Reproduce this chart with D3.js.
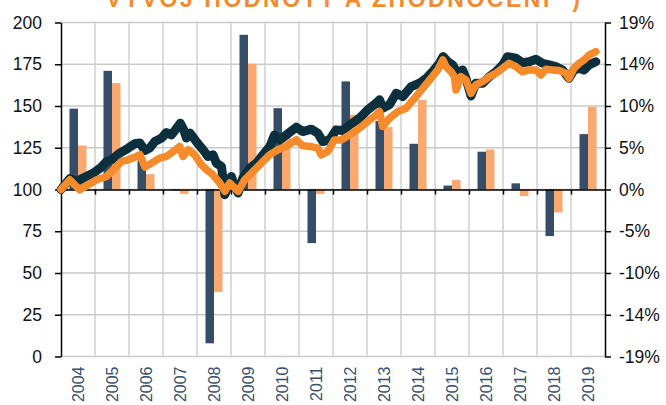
<!DOCTYPE html>
<html>
<head>
<meta charset="utf-8">
<script src="https://cdn.jsdelivr.net/npm/d3@7"></script>
<style>
  html, body { margin: 0; padding: 0; background: #fff; }
  svg { display: block; }
</style>
</head>
<body>
<div id="chart"></div>
<script>
// ---------- DATA ----------
const years = [2004, 2005, 2006, 2007, 2008, 2009, 2010, 2011, 2012, 2013, 2014, 2015, 2016, 2017, 2018, 2019];
// annual returns (%), right axis
const fundReturns  = [9.2, 13.5, 3.3, -0.1, -17.5, 17.6, 9.25, -6.1, 12.3, 7.8, 5.2, 0.45, 4.3, 0.7, -5.3, 6.3];
const benchReturns = [5.0, 12.1, 1.75, -0.5, -11.65, 14.3, 6.4, -0.5, 8.5, 7.1, 10.2, 1.1, 4.55, -0.75, -2.6, 9.4];

// value development (index, left axis)
const fundDates = [2004.00, 2004.26, 2004.46, 2004.65, 2004.95, 2005.19, 2005.34, 2005.49, 2005.73, 2005.98,
  2006.17, 2006.32, 2006.47, 2006.61, 2006.76, 2006.96, 2007.10, 2007.25, 2007.40, 2007.51,
  2007.61, 2007.69, 2007.79, 2007.98, 2008.18, 2008.32, 2008.47, 2008.57, 2008.72, 2008.82,
  2008.91, 2009.01, 2009.11, 2009.21, 2009.35, 2009.55, 2009.75, 2009.94, 2010.14, 2010.28,
  2010.43, 2010.63, 2010.92, 2011.11, 2011.36, 2011.55, 2011.70, 2011.90, 2012.09, 2012.29,
  2012.49, 2012.78, 2013.02, 2013.27, 2013.37, 2013.46, 2013.66, 2013.86, 2014.05, 2014.30,
  2014.54, 2014.74, 2014.93, 2015.13, 2015.24, 2015.37, 2015.52, 2015.66, 2015.81, 2015.91,
  2016.06, 2016.20, 2016.40, 2016.60, 2016.79, 2016.99, 2017.13, 2017.38, 2017.57, 2017.77,
  2017.97, 2018.16, 2018.36, 2018.55, 2018.75, 2018.94, 2019.09, 2019.24, 2019.38, 2019.53, 2019.73];
const fundValues = [100.0, 106.5, 104.8, 106.9, 109.8, 113.4, 116.8, 117.8, 121.8, 124.8,
  127.4, 127.8, 123.4, 124.8, 128.7, 130.8, 134.1, 132.7, 136.7, 139.7,
  135.7, 130.8, 133.8, 128.7, 123.8, 119.8, 120.8, 115.8, 113.8, 96.9,
  101.8, 107.8, 101.8, 97.9, 106.9, 112.8, 115.8, 120.8, 125.7, 132.7,
  129.7, 132.7, 137.3, 134.7, 136.1, 133.8, 128.7, 129.7, 135.7, 135.3,
  138.7, 142.7, 147.7, 151.7, 153.7, 148.7, 150.7, 157.7, 155.6, 161.6,
  163.6, 166.6, 170.6, 175.6, 179.6, 176.6, 174.6, 169.6, 171.6, 166.6,
  156.0, 163.6, 163.6, 167.6, 170.5, 174.5, 179.5, 178.6, 175.9, 176.5,
  178.0, 175.6, 174.6, 173.6, 171.6, 166.6, 171.6, 172.6, 171.6, 174.6, 176.5];

const benchDates = [2004.00, 2004.26, 2004.55, 2004.75, 2005.05, 2005.34, 2005.54, 2005.78, 2005.98, 2006.22,
  2006.32, 2006.47, 2006.66, 2006.91, 2007.10, 2007.30, 2007.49, 2007.59, 2007.74, 2007.93,
  2008.13, 2008.28, 2008.47, 2008.67, 2008.82, 2008.96, 2009.11, 2009.21, 2009.40, 2009.65,
  2009.89, 2010.14, 2010.38, 2010.63, 2010.92, 2011.11, 2011.36, 2011.55, 2011.65, 2011.85,
  2012.04, 2012.24, 2012.49, 2012.78, 2013.02, 2013.27, 2013.37, 2013.46, 2013.66, 2013.91,
  2014.15, 2014.40, 2014.64, 2014.88, 2015.08, 2015.23, 2015.32, 2015.47, 2015.57, 2015.62,
  2015.76, 2015.91, 2016.06, 2016.20, 2016.40, 2016.60, 2016.79, 2016.99, 2017.18, 2017.38,
  2017.57, 2017.77, 2017.97, 2018.11, 2018.26, 2018.45, 2018.65, 2018.85, 2018.94, 2019.09,
  2019.24, 2019.38, 2019.53, 2019.73];
const benchValues = [100.0, 105.8, 99.8, 102.2, 105.8, 107.8, 111.8, 116.8, 117.8, 119.8,
  120.8, 113.4, 115.8, 118.8, 119.8, 122.8, 125.7, 119.8, 123.8, 120.8,
  114.8, 111.8, 108.8, 103.9, 98.9, 103.9, 100.9, 98.9, 105.8, 110.8,
  115.8, 120.8, 123.8, 126.0, 129.7, 126.2, 125.7, 124.8, 120.8, 122.8,
  129.7, 129.7, 132.7, 136.7, 140.7, 144.7, 146.7, 137.7, 142.7, 146.7,
  148.7, 154.7, 160.6, 166.6, 171.6, 177.6, 173.6, 170.6, 167.6, 159.6,
  167.6, 165.6, 157.6, 162.6, 164.6, 167.6, 169.6, 172.6, 175.6, 173.6,
  170.5, 171.6, 171.6, 168.6, 172.0, 171.6, 171.2, 169.6, 166.6, 172.6,
  175.6, 177.5, 180.5, 182.5];

const leftTicks = [0, 25, 50, 75, 100, 125, 150, 175, 200];
const rightTickValues = [-19, -14.25, -9.5, -4.75, 0, 4.75, 9.5, 14.25, 19];
const rightTickLabels = ["-19%", "-14%", "-10%", "-5%", "0%", "5%", "10%", "14%", "19%"];
const titleText = "VÝVOJ HODNOTY A ZHODNOCENÍ *)";

// ---------- CHART ----------
const W = 666, H = 405;
const L = 61, R = 605, T = 22.5, B = 356.5;
const svg = d3.select("#chart").append("svg").attr("width", W).attr("height", H);

const x = d3.scaleLinear().domain([2004, 2020]).range([L, R]);
const xb = d3.scaleBand().domain(years).range([L, R]).padding(0);
const xs = d3.scaleBand().domain(["fund", "bench"]).range([0, xb.bandwidth()]).paddingInner(0).paddingOuter(1);
const y = d3.scaleLinear().domain([0, 200]).range([B, T]);
const y2 = d3.scaleLinear().domain([-19, 19]).range([B, T]);

const font = "'Liberation Sans', Arial, sans-serif";

// title (cut off at top, as in the original)
svg.append("text")
  .attr("x", 106).attr("y", 7)
  .attr("textLength", 474).attr("lengthAdjust", "spacing")
  .attr("font-family", font).attr("font-weight", "bold").attr("font-size", 23)
  .attr("fill", "#f58a2a")
  .text(titleText);

// grid
const grid = svg.append("g");
grid.selectAll("line.h").data(leftTicks).join("line")
  .attr("x1", L).attr("x2", R).attr("y1", d => y(d)).attr("y2", d => y(d))
  .attr("stroke", "#c9c9c9").attr("stroke-width", 1.3);
grid.selectAll("line.v").data(years.slice(1)).join("line")
  .attr("x1", d => x(d)).attr("x2", d => x(d)).attr("y1", T).attr("y2", B)
  .attr("stroke", "#c9c9c9").attr("stroke-width", 1.3);

// bars
const series = [
  { key: "fund", vals: fundReturns, color: "#364d68" },
  { key: "bench", vals: benchReturns, color: "#f9a86f" }
];
series.forEach(s => {
  svg.append("g").selectAll("rect").data(years).join("rect")
    .attr("x", (d) => xb(d) + xs(s.key))
    .attr("width", xs.bandwidth())
    .attr("y", (d, i) => Math.min(y2(s.vals[i]), y2(0)))
    .attr("height", (d, i) => Math.abs(y2(s.vals[i]) - y2(0)))
    .attr("fill", s.color);
});

// axes
function styleAxis(g, size) {
  g.select(".domain").attr("stroke", "#000").attr("stroke-width", 1.5);
  g.selectAll(".tick line").attr("stroke", "#000").attr("stroke-width", 1.5);
  g.selectAll(".tick text").attr("font-family", font).attr("font-size", size).attr("fill", "#111");
}
const gl = svg.append("g").attr("transform", `translate(${L},0)`)
  .call(d3.axisLeft(y).tickValues(leftTicks).tickSize(6).tickSizeOuter(0).tickPadding(13));
styleAxis(gl, 17.5);

const gr = svg.append("g").attr("transform", `translate(${R},0)`)
  .call(d3.axisRight(y2).tickValues(rightTickValues).tickFormat((d, i) => rightTickLabels[i])
    .tickSize(6).tickSizeOuter(0).tickPadding(8));
styleAxis(gr, 17.5);

const gx = svg.append("g").attr("transform", `translate(0,${y(100)})`)
  .call(d3.axisBottom(x).tickValues(d3.range(2005, 2020)).tickSize(5).tickSizeOuter(0).tickFormat(""));
styleAxis(gx, 10);

const gy = svg.append("g").attr("transform", `translate(0,${B})`)
  .call(d3.axisBottom(xb).tickSize(0).tickSizeOuter(0));
gy.select(".domain").remove();
gy.selectAll(".tick text")
  .attr("transform", "rotate(-90)")
  .attr("x", -10).attr("y", 0).attr("dy", "0.35em")
  .attr("text-anchor", "end")
  .attr("font-family", font).attr("font-size", 16).attr("fill", "#33506e");

// lines
const line = d3.line().x(d => x(d[0])).y(d => y(d[1]));
svg.append("path")
  .datum(fundDates.map((t, i) => [t, fundValues[i]]))
  .attr("d", line).attr("fill", "none")
  .attr("stroke", "#0b2f3d").attr("stroke-width", 9)
  .attr("stroke-linejoin", "round").attr("stroke-linecap", "round");
svg.append("path")
  .datum(benchDates.map((t, i) => [t, benchValues[i]]))
  .attr("d", line).attr("fill", "none")
  .attr("stroke", "#f68b2b").attr("stroke-width", 7.5)
  .attr("stroke-linejoin", "round").attr("stroke-linecap", "round");
</script>
</body>
</html>
